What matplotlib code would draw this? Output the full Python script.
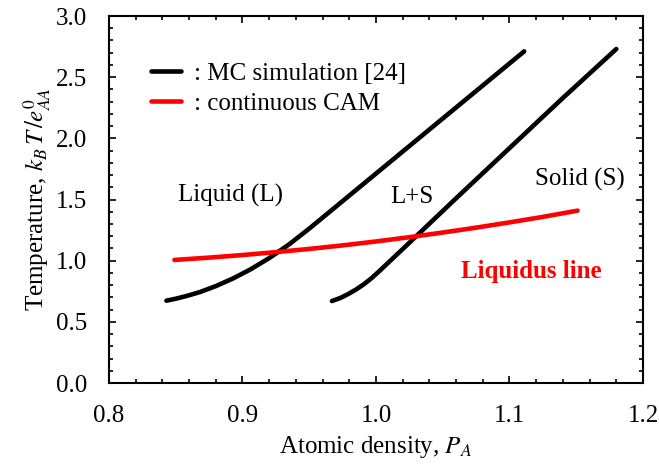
import matplotlib
matplotlib.use("Agg")
import matplotlib.pyplot as plt
from matplotlib.ticker import MultipleLocator

plt.rcParams["font.family"] = ["Liberation Serif", "DejaVu Serif"]
plt.rcParams["mathtext.fontset"] = "stix"

# MC simulation [24]: liquid-side boundary
mc_liq_x = [0.843, 0.850, 0.858, 0.868, 0.880, 0.893, 0.906, 0.920, 0.935,
            0.950, 1.0, 1.05, 1.111]
mc_liq_y = [0.673, 0.689, 0.711, 0.743, 0.792, 0.855, 0.929, 1.021, 1.134,
            1.262, 1.712, 2.162, 2.711]

# MC simulation [24]: solid-side boundary
mc_sol_x = [0.967, 0.973, 0.979, 0.985, 0.991, 0.997, 1.003, 1.02, 1.06,
            1.10, 1.14, 1.18]
mc_sol_y = [0.670, 0.694, 0.726, 0.764, 0.808, 0.860, 0.920, 1.095, 1.51,
            1.92, 2.33, 2.73]

# continuous CAM liquidus line
cam_x = [0.849, 0.875, 0.90, 0.925, 0.95, 0.975, 1.00, 1.025, 1.05, 1.075,
         1.10, 1.125, 1.151]
cam_y = [1.006, 1.025, 1.046, 1.070, 1.096, 1.125, 1.157, 1.192, 1.230,
         1.270, 1.313, 1.358, 1.409]

fig = plt.figure(figsize=(6.59, 4.68), dpi=100)
ax = fig.add_axes([0.1654, 0.1816, 0.8103, 0.7842])

ax.plot(mc_liq_x, mc_liq_y, color="black", lw=3.3, solid_capstyle="round",
        label=": MC simulation [24]")
ax.plot(mc_sol_x, mc_sol_y, color="black", lw=3.3, solid_capstyle="round")
ax.plot(cam_x, cam_y, color="red", lw=3.3, solid_capstyle="round",
        label=": continuous CAM")

ax.set_xlim(0.8, 1.2)
ax.set_ylim(0.0, 3.0)
ax.xaxis.set_major_locator(MultipleLocator(0.1))
ax.xaxis.set_minor_locator(MultipleLocator(0.02))
ax.yaxis.set_major_locator(MultipleLocator(0.5))
ax.yaxis.set_minor_locator(MultipleLocator(0.1))
ax.xaxis.set_major_formatter(plt.FormatStrFormatter("%.1f"))
ax.yaxis.set_major_formatter(plt.FormatStrFormatter("%.1f"))
ax.tick_params(which="both", direction="in", top=True, right=True,
               labelsize=18, width=1.2)
ax.tick_params(which="major", length=5, pad=16)
ax.tick_params(which="minor", length=3, pad=16)
for s in ax.spines.values():
    s.set_linewidth(1.5)

ax.set_xlabel(r"Atomic density, $P_A$", fontsize=18, labelpad=5)
ax.set_ylabel(r"Temperature, $k_B\,T\,/e_{AA}^{0}$", fontsize=18, labelpad=2)

ax.text(0.891, 1.53, "Liquid (L)", fontsize=18, ha="center", va="center")
ax.text(1.027, 1.52, "L+S", fontsize=18, ha="center", va="center")
ax.text(1.153, 1.66, "Solid (S)", fontsize=18, ha="center", va="center")
ax.text(1.116, 0.91, "Liquidus line", fontsize=18, fontweight="bold",
        color="red", ha="center", va="center")

ax.legend(loc="upper left", bbox_to_anchor=(0.079, 0.873), frameon=False,
          fontsize=18, handlelength=1.2, handletextpad=0.5, labelspacing=0.3,
          borderpad=0, borderaxespad=0)

fig.savefig("out.png", dpi=100)
